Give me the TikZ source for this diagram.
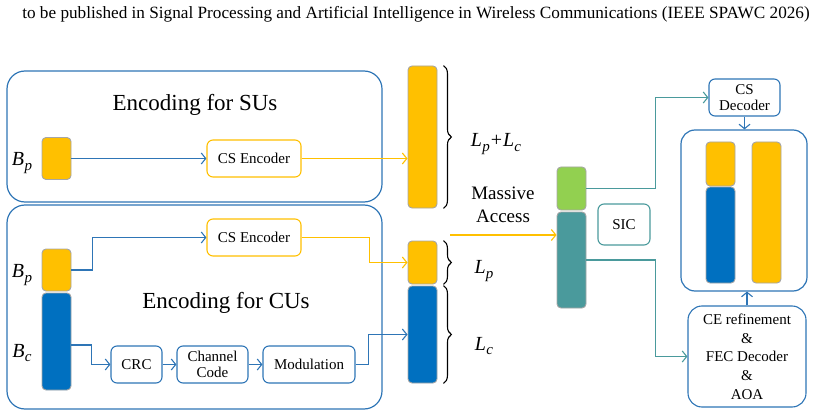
\documentclass[tikz,border=0pt]{standalone}
\usepackage{fontspec}
\setmainfont{Liberation Serif}
\usepackage{tikz}
\usetikzlibrary{arrows.meta,positioning,decorations.pathreplacing}
\definecolor{lineblue}{HTML}{2E75B6}
\definecolor{blockblue}{HTML}{0070C0}
\definecolor{gold}{HTML}{FFC000}
\definecolor{tealline}{HTML}{4A9A9C}
\definecolor{tealblock}{HTML}{4A9A9C}
\definecolor{greenblock}{HTML}{92D050}
\definecolor{edgegray}{HTML}{A6A6A6}
% italic symbol with subscript, set in the text font
\newcommand{\symsub}[2]{{\itshape #1}\kern0.3pt\raisebox{-4.5pt}{\fontsize{15}{15}\selectfont\itshape #2}}
\tikzset{
  container/.style={draw=lineblue, line width=1.2pt, rounded corners=18pt, inner sep=0pt},
  proc/.style={draw=lineblue, line width=1.1pt, rounded corners=6pt, fill=white, align=center,
    inner sep=0pt, font=\fontsize{15}{16.5}\selectfont},
  yproc/.style={proc, draw=gold},
  tproc/.style={proc, draw=tealline},
  blk/.style={draw=edgegray, line width=0.9pt, rounded corners=4pt, inner sep=0pt, minimum width=29pt},
  arr/.style={draw=lineblue, line width=1.1pt, -{Straight Barb[length=4.5pt,width=11pt]}},
  yarr/.style={arr, draw=gold},
  tarr/.style={arr, draw=tealline},
  brc/.style={draw=black, line width=1.1pt, decorate, decoration={brace, amplitude=8pt}},
  title/.style={font=\fontsize{23}{25}\selectfont},
  lab/.style={font=\fontsize{19}{23}\selectfont, align=center},
  sym/.style={font=\fontsize{20}{22}\selectfont, inner sep=0pt},
}

\begin{document}
\begin{tikzpicture}[x=1pt,y=-1pt]
  \useasboundingbox (0,0) rectangle (814,417);
  \node[font=\fontsize{17.2}{19}\selectfont] (head) at (416,14)
    {to be published in Signal Processing and Artificial Intelligence in Wireless Communications (IEEE SPAWC 2026)};
  % encoder side
  \node[container, minimum width=375pt, minimum height=131pt] (su) at (194.5,136.5) {};
  \node[container, minimum width=375pt, minimum height=204pt] (cu) at (194.5,307) {};
  \node[title] (sutitle) at (195,105) {Encoding for SUs};
  \node[title] (cutitle) at (226,303) {Encoding for CUs};
  \node[blk, fill=gold, minimum height=42pt] (bpsu) at (56.5,158.5) {};
  \node[blk, fill=gold, minimum height=42pt] (bpcu) at (56.5,270) {};
  \node[blk, fill=blockblue, minimum height=97pt] (bccu) at (56.5,341.5) {};
  \node[sym] (bpsulab) at (22,163) {\symsub{B}{p}};
  \node[sym] (bpculab) at (22,275) {\symsub{B}{p}};
  \node[sym] (bcculab) at (22,353) {\symsub{B}{c}};
  \node[yproc, minimum width=94pt, minimum height=37pt] (cssu) at (254,158.5) {CS Encoder};
  \node[yproc, minimum width=94pt, minimum height=37pt] (cscu) at (254,237.5) {CS Encoder};
  \node[proc, minimum width=51pt, minimum height=37pt] (crc) at (136.5,364.5) {CRC};
  \node[proc, minimum width=71pt, minimum height=37pt] (chc) at (212.5,364.5) {Channel\\Code};
  \node[proc, minimum width=92pt, minimum height=37pt] (mod) at (309,364.5) {Modulation};
  % transmitted frames
  \node[blk, fill=gold, minimum height=142pt] (bigsu) at (422.5,137) {};
  \node[blk, fill=gold, minimum height=43pt] (lpblk) at (422.5,262.5) {};
  \node[blk, fill=blockblue, minimum height=97pt] (lcblk) at (422.5,334.5) {};
  \draw[brc] ([xshift=6pt]bigsu.north east) -- ([xshift=6pt]bigsu.south east);
  \draw[brc] ([xshift=6pt]lpblk.north east) -- ([xshift=6pt]lpblk.south east);
  \draw[brc] ([xshift=6pt]lcblk.north east) -- ([xshift=6pt]lcblk.south east);
  \node[sym] (lsum) at (496,144) {\symsub{L}{p}\kern1pt+\kern1pt\symsub{L}{c}};
  \node[sym] (lp) at (484,271) {\symsub{L}{p}};
  \node[sym] (lc) at (484,346) {\symsub{L}{c}};
  \node[lab] (ma) at (503,205) {Massive\\Access};
  % receiver side
  \node[blk, fill=greenblock, minimum height=43pt] (gblk) at (571.5,188.5) {};
  \node[blk, fill=tealblock, minimum height=96pt] (tblk) at (571.5,260) {};
  \node[tproc, minimum width=52pt, minimum height=41pt] (sic) at (624,224.5) {SIC};
  \node[proc, minimum width=71pt, minimum height=37pt] (csdec) at (744.5,97.5) {CS\\Decoder};
  \node[container, rounded corners=14pt, minimum width=126pt, minimum height=161pt] (rx) at (744,210.5) {};
  \node[blk, fill=gold, minimum height=44pt] (rxp) at (720.5,164) {};
  \node[blk, fill=blockblue, minimum height=96pt] (rxc) at (720.5,235) {};
  \node[blk, fill=gold, minimum height=141pt] (rxs) at (766.5,212.5) {};
  \node[proc, rounded corners=14pt, minimum width=118pt, minimum height=101pt,
    font=\fontsize{15}{18.7}\selectfont] (ce) at (747,356.5) {CE refinement\\\&\\FEC Decoder\\\&\\AOA};
  % connectors
  \draw[arr] (bpsu.east) -- (cssu.west);
  \draw[yarr] (cssu.east) -- (cssu.east -| bigsu.west);
  \draw[arr] (bpcu.east) -- ++(21,0) |- (cscu.west);
  \draw[arr] (bccu.east) ++(0,3.5) -- ++(20,0) |- (crc.west);
  \draw[arr] (crc) -- (chc);
  \draw[arr] (chc) -- (mod);
  \draw[arr] (mod.east) -- ++(13,0) |- (lcblk.west);
  \draw[yarr] (cscu.east) -- ++(68,0) |- (lpblk.west);
  \coordinate (mastart) at (450,235);
  \draw[yarr] (mastart) -- (mastart -| tblk.west);
  \draw[tarr] (gblk.east) -- ++(69,0) |- (csdec.west);
  \draw[tarr] (tblk.east) -- ++(69,0) |- (ce.west);
  \draw[arr] (csdec.south) -- (csdec.south |- rx.north);
  \draw[arr] (ce.north) -- (ce.north |- rx.south);
\end{tikzpicture}
\end{document}
